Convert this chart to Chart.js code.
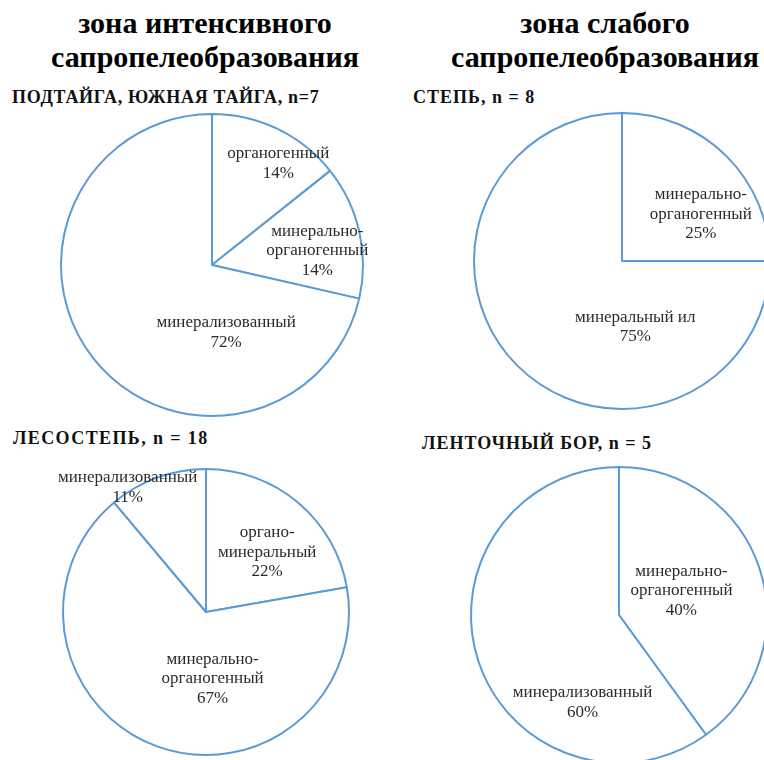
<!DOCTYPE html>
<html lang="ru">
<head>
<meta charset="utf-8">
<title>Сапропелеобразование</title>
<script src="https://cdn.jsdelivr.net/npm/chart.js@4.4.1/dist/chart.umd.min.js"></script>
<style>
    html, body {
        margin: 0;
        padding: 0;
        width: 764px;
        height: 760px;
        overflow: hidden;
        background: #fff;
    }
    .zone {
        position: absolute;
        width: 400px;
        text-align: center;
        font-family: "Liberation Serif", "DejaVu Serif", serif;
        font-weight: bold;
        font-size: 30px;
        line-height: 34px;
        color: #000;
    }
    .sub {
        position: absolute;
        font-family: "Liberation Serif", "DejaVu Serif", serif;
        font-weight: bold;
        font-size: 18px;
        letter-spacing: 1px;
        line-height: 20px;
        color: #111;
        white-space: nowrap;
    }
    .pie {
        position: absolute;
    }
</style>
</head>
<body>

<div class="zone" style="left:5px; top:6px;">зона интенсивного<br>сапропелеобразования</div>
<div class="zone" style="left:405px; top:6px;">зона слабого<br>сапропелеобразования</div>

<div class="sub" style="left:12px; top:87px; letter-spacing:0.7px;">ПОДТАЙГА, ЮЖНАЯ ТАЙГА, n=7</div>
<div class="sub" style="left:413px; top:87px;">СТЕПЬ, n = 8</div>
<div class="sub" style="left:13px; top:428px; letter-spacing:1.4px;">ЛЕСОСТЕПЬ, n = 18</div>
<div class="sub" style="left:422px; top:433px;">ЛЕНТОЧНЫЙ БОР, n = 5</div>

<canvas id="pie-taiga" class="pie" width="340" height="340" style="left:42px; top:95px;"></canvas>
<canvas id="pie-steppe" class="pie" width="340" height="340" style="left:452px; top:91px;"></canvas>
<canvas id="pie-forest" class="pie" width="340" height="340" style="left:36px; top:442px;"></canvas>
<canvas id="pie-bor" class="pie" width="340" height="340" style="left:449px; top:445px;"></canvas>

<script>
// данные (число озёр по типам сапропеля)
const taigaLabels = [['органогенный'], ['минерально-', 'органогенный'], ['минерализованный']];
const taigaCounts = [1, 1, 5];
const taigaPercents = ['14%', '14%', '72%'];

const steppeLabels = [['минерально-', 'органогенный'], ['минеральный ил']];
const steppeCounts = [2, 6];
const steppePercents = ['25%', '75%'];

const forestLabels = [['органо-', 'минеральный'], ['минерально-', 'органогенный'], ['минерализованный']];
const forestCounts = [4, 12, 2];
const forestPercents = ['22%', '67%', '11%'];

const borLabels = [['минерально-', 'органогенный'], ['минерализованный']];
const borCounts = [2, 3];
const borPercents = ['40%', '60%'];

// сдвиг подписей относительно точки 0.6R на середине сектора
const labelNudges = {
    'pie-taiga':  [[27, -20], [17, 6], [85, 11]],
    'pie-steppe': [[16, 16], [76, 3]],
    'pie-forest': [[6, 6], [36, -14], [-49, -44]],
    'pie-bor':    [[-22, 3], [48, 60]]
};

const pieRadius = {
    'pie-taiga': 151,
    'pie-steppe': 148,
    'pie-forest': 143,
    'pie-bor': 148
};

// подписи секторов
const sliceLabelPlugin = {
    id: 'sliceLabels',
    afterDatasetsDraw(chart) {
        const ctx = chart.ctx;
        const meta = chart.getDatasetMeta(0);
        const nudges = labelNudges[chart.canvas.id] || [];
        const percents = chart.data.datasets[0].percents;
        const lineHeight = 19.5;

        ctx.save();
        ctx.font = '17px "Liberation Serif", "DejaVu Serif", serif';
        ctx.fillStyle = '#2b2b2b';
        ctx.textAlign = 'center';
        ctx.textBaseline = 'middle';

        meta.data.forEach((arc, i) => {
            const p = arc.getProps(['x', 'y', 'startAngle', 'endAngle', 'outerRadius'], true);
            const mid = (p.startAngle + p.endAngle) / 2;
            const nudge = nudges[i] || [0, 0];
            const x = p.x + Math.cos(mid) * p.outerRadius * 0.6 + nudge[0];
            const y = p.y + Math.sin(mid) * p.outerRadius * 0.6 + nudge[1];

            const lines = chart.data.labels[i].concat([percents[i]]);
            const top = y - (lines.length - 1) * lineHeight / 2;
            lines.forEach((line, j) => {
                ctx.fillText(line, x, top + j * lineHeight);
            });
        });
        ctx.restore();
    }
};

function drawPie(id, labels, counts, percents) {
    const ctx = document.getElementById(id).getContext('2d');

    new Chart(ctx, {
        type: 'pie',
        data: {
            labels: labels,
            datasets: [{
                data: counts,
                percents: percents,
                backgroundColor: '#ffffff',
                borderColor: '#5b9bd5',
                borderWidth: 2,
                radius: pieRadius[id]
            }]
        },
        options: {
            responsive: false,
            animation: false,
            layout: { padding: 0 },
            plugins: {
                legend: { display: false },
                tooltip: { enabled: false }
            }
        },
        plugins: [sliceLabelPlugin]
    });
}

drawPie('pie-taiga', taigaLabels, taigaCounts, taigaPercents);
drawPie('pie-steppe', steppeLabels, steppeCounts, steppePercents);
drawPie('pie-forest', forestLabels, forestCounts, forestPercents);
drawPie('pie-bor', borLabels, borCounts, borPercents);
</script>
</body>
</html>
